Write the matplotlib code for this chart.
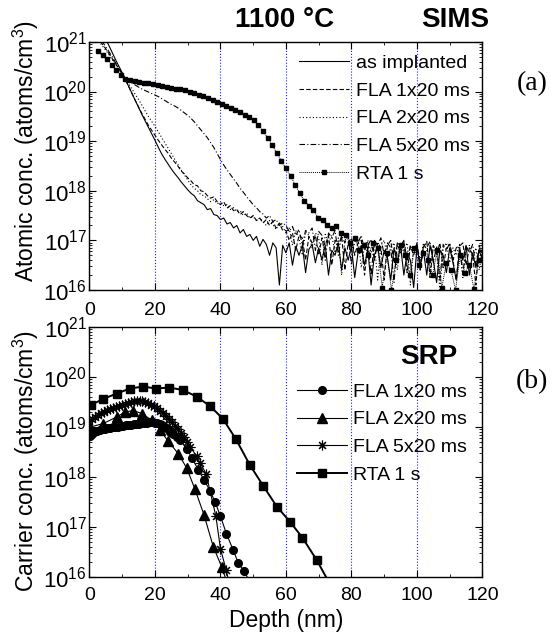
import numpy as np
import matplotlib
matplotlib.use("Agg")
import matplotlib.pyplot as plt
from matplotlib.ticker import LogLocator, MultipleLocator, NullFormatter

plt.rcParams['font.family'] = ['Liberation Sans', 'DejaVu Sans']
plt.rcParams['mathtext.fontset'] = 'custom'
plt.rcParams['mathtext.rm'] = 'Liberation Sans'
plt.rcParams['mathtext.it'] = 'Liberation Sans:italic'
plt.rcParams['mathtext.bf'] = 'Liberation Sans:bold'

# ---- SIMS (top), depth in nm, values are log10(atoms/cm3) ----
sims_depth = np.arange(0, 121)

sims_as_impl = [
    21.55, 21.45, 21.35, 21.25, 21.15, 21.05, 20.92, 20.78, 20.64, 20.51,
    20.38, 20.24, 20.10, 19.96, 19.82, 19.68, 19.54, 19.41, 19.28, 19.15,
    19.02, 18.88, 18.75, 18.64, 18.54, 18.44, 18.35, 18.27, 18.18, 18.10,
    18.02, 17.95, 17.90, 17.80, 17.76, 17.72, 17.62, 17.64, 17.52, 17.50,
    17.42, 17.45, 17.33, 17.36, 17.25, 17.30, 17.15, 17.22, 17.08, 17.12,
    17.00, 17.08, 16.88, 17.02, 16.92, 16.70, 16.95, 16.85, 16.10, 16.90,
    16.75, 16.95, 16.50, 16.88, 16.70, 16.90, 16.35, 16.82, 16.92, 16.55,
    16.85, 16.60, 16.90, 16.30, 16.80, 16.70, 16.95, 16.40, 16.85, 16.60,
    16.88, 16.25, 16.75, 16.90, 16.50, 16.82, 16.10, 16.70, 16.88, 16.45,
    16.80, 16.65, 16.20, 16.85, 16.55, 16.90, 16.30, 16.75, 16.60, 16.05,
    16.85, 16.50, 16.78, 16.30, 16.90, 16.60, 16.15, 16.80, 16.70, 16.35,
    16.85, 16.55, 16.20, 16.80, 16.60, 16.90, 16.30, 16.75, 16.45, 16.80, 16.60]

sims_fla1 = [
    21.35, 21.25, 21.15, 21.05, 20.95, 20.86, 20.76, 20.66, 20.56, 20.46,
    20.35, 20.23, 20.10, 19.96, 19.82, 19.69, 19.56, 19.44, 19.32, 19.22,
    19.12, 19.02, 18.93, 18.84, 18.76, 18.66, 18.58, 18.50, 18.40, 18.34,
    18.26, 18.20, 18.12, 18.10, 18.00, 17.98, 17.90, 17.85, 17.88, 17.78,
    17.72, 17.78, 17.65, 17.70, 17.60, 17.62, 17.52, 17.58, 17.50, 17.45,
    17.50, 17.40, 17.45, 17.35, 17.42, 17.30, 17.38, 17.25, 17.35, 17.20,
    17.20, 17.00, 17.15, 16.80, 17.10, 17.05, 16.60, 17.08, 16.95, 17.10,
    16.70, 17.05, 16.90, 17.10, 16.50, 17.00, 16.90, 17.08, 16.40, 16.95,
    17.05, 16.70, 16.95, 17.00, 16.30, 16.90, 17.02, 16.60, 16.95, 16.85,
    16.20, 16.90, 17.00, 16.55, 16.92, 16.75, 16.98, 16.35, 16.88, 16.70,
    16.95, 16.50, 16.85, 16.98, 16.25, 16.90, 16.70, 16.95, 16.45, 16.85,
    16.92, 16.60, 16.20, 16.88, 16.95, 16.50, 16.85, 16.70, 16.10, 16.90, 16.75]

sims_fla2 = [
    21.30, 21.20, 21.10, 21.00, 20.92, 20.83, 20.74, 20.64, 20.55, 20.45,
    20.35, 20.25, 20.15, 20.05, 19.94, 19.84, 19.73, 19.61, 19.50, 19.40,
    19.30, 19.19, 19.08, 18.97, 18.86, 18.75, 18.64, 18.53, 18.42, 18.32,
    18.22, 18.12, 18.05, 18.00, 17.92, 17.90, 17.84, 17.78, 17.82, 17.74,
    17.76, 17.70, 17.72, 17.62, 17.66, 17.58, 17.60, 17.50, 17.55, 17.45,
    17.48, 17.40, 17.45, 17.38, 17.30, 17.40, 17.32, 17.22, 17.35, 17.28,
    17.15, 17.25, 16.90, 17.20, 17.05, 16.70, 17.18, 17.10, 16.85, 17.15,
    17.05, 16.50, 17.12, 16.95, 17.10, 16.75, 17.05, 16.30, 17.00, 17.10,
    16.80, 16.95, 17.05, 16.45, 16.90, 17.00, 16.75, 16.95, 16.20, 16.90,
    17.00, 16.65, 16.85, 16.95, 16.40, 16.90, 16.80, 16.95, 16.10, 16.85,
    16.90, 16.60, 16.95, 16.80, 16.30, 16.90, 16.75, 16.00, 16.85, 16.95,
    16.55, 16.85, 16.70, 16.92, 16.25, 16.80, 16.90, 16.60, 16.85, 16.40, 16.80]

sims_fla5 = [
    21.40, 21.30, 21.20, 21.10, 21.00, 20.90, 20.80, 20.70, 20.58, 20.47,
    20.36, 20.27, 20.22, 20.17, 20.13, 20.09, 20.05, 20.02, 19.99, 19.96,
    19.93, 19.90, 19.86, 19.82, 19.78, 19.74, 19.71, 19.67, 19.62, 19.57,
    19.52, 19.46, 19.39, 19.31, 19.23, 19.15, 19.07, 18.97, 18.87, 18.75,
    18.63, 18.52, 18.42, 18.33, 18.24, 18.15, 18.05, 17.97, 17.88, 17.80,
    17.72, 17.66, 17.58, 17.53, 17.45, 17.50, 17.38, 17.42, 17.30, 17.35,
    17.30, 17.18, 17.28, 17.10, 17.22, 16.90, 17.20, 17.15, 17.25, 16.80,
    17.18, 17.10, 16.60, 17.15, 17.05, 17.20, 16.70, 17.10, 16.95, 17.12,
    16.50, 17.05, 16.95, 17.10, 16.80, 16.98, 16.30, 17.00, 16.90, 17.05,
    16.70, 16.95, 16.85, 16.15, 16.95, 16.88, 17.00, 16.60, 16.90, 16.80,
    16.95, 16.40, 16.90, 16.85, 16.98, 16.55, 16.88, 16.20, 16.92, 16.80,
    16.95, 16.60, 16.85, 16.90, 16.30, 16.88, 16.75, 16.92, 16.50, 16.85, 16.70]

sims_rta_depth = [
    2.6, 4.0, 5.4, 6.8, 8.2, 9.6, 11.0, 12.4, 13.8, 15.2, 16.6, 18.0, 19.4,
    20.8, 22.2, 23.6, 25.0, 26.4, 27.8, 29.2, 30.6, 32.0, 33.4, 34.8, 36.2,
    37.6, 39.0, 40.4, 41.8, 43.2, 44.6, 46.0, 47.4, 48.8, 50.2, 51.6, 53.0,
    54.4, 55.8, 57.2, 58.6, 60.0, 61.4, 62.8, 64.2, 65.6, 67.0, 68.4, 69.8,
    71.2, 72.6, 74.0, 75.4, 76.8, 78.2, 79.6, 81.0, 82.4, 83.8, 85.2, 86.6,
    88.0, 89.4, 90.8, 92.2, 93.6, 95.0, 96.4, 97.8, 99.2, 100.6, 102.0,
    103.4, 104.8, 106.2, 107.6, 109.0, 110.4, 111.8, 113.2, 114.6, 116.0,
    117.4, 118.8]
sims_rta = [
    20.82, 20.73, 20.66, 20.54, 20.43, 20.33, 20.26, 20.23, 20.21, 20.20,
    20.18, 20.17, 20.15, 20.13, 20.11, 20.10, 20.08, 20.06, 20.05, 20.03,
    20.00, 19.97, 19.94, 19.91, 19.87, 19.83, 19.79, 19.75, 19.71, 19.67,
    19.62, 19.58, 19.53, 19.48, 19.42, 19.32, 19.20, 19.07, 18.92, 18.76,
    18.60, 18.45, 18.30, 18.12, 17.95, 17.80, 17.70, 17.62, 17.45, 17.42,
    17.30, 17.25, 17.28, 17.15, 17.10, 16.95, 17.05, 16.80, 16.90, 16.70,
    16.95, 16.85, 16.05, 16.75, 16.00, 16.60, 16.90, 16.70, 16.30, 16.85,
    16.50, 16.75, 16.60, 16.30, 16.80, 16.05, 16.55, 16.40, 16.00, 16.70,
    16.35, 16.50, 16.02, 16.60]

# ---- SRP (bottom), values are log10(carriers/cm3) ----
srp_fla1_depth = [
    0.3, 0.8, 1.5, 2.3, 3.1, 3.9, 4.7, 5.5, 6.3, 7.1, 7.9, 8.7, 9.5, 10.3,
    11.1, 11.9, 12.7, 13.5, 14.3, 15.1, 15.9, 16.7, 17.5, 18.3, 19.1, 19.9,
    20.7, 21.5, 22.3, 23.1, 23.9, 24.7, 25.6, 26.6, 27.6, 29.7, 31.2, 33.2,
    35.0, 36.8, 38.3, 40.0, 41.8, 43.9, 45.4, 47.2, 49.0]
srp_fla1 = [
    18.82, 18.86, 18.90, 18.92, 18.94, 18.96, 18.97, 18.98, 18.99, 19.00,
    19.00, 19.01, 19.02, 19.03, 19.04, 19.05, 19.05, 19.06, 19.07, 19.07,
    19.08, 19.09, 19.09, 19.10, 19.10, 19.09, 19.08, 19.07, 19.04, 19.00,
    18.96, 18.91, 18.86, 18.80, 18.74, 18.57, 18.39, 18.15, 17.94, 17.73,
    17.51, 17.22, 16.87, 16.54, 16.29, 16.12, 15.90]

srp_fla2_depth = [0.3, 4.2, 8.3, 10.8, 13.4, 16.0, 19.0, 21.5, 24.0, 27.1,
                  29.7, 32.2, 35.0, 37.8, 40.4, 42.5]
srp_fla2 = [19.00, 19.07, 19.20, 19.30, 19.33, 19.27, 19.14, 18.95, 18.72,
            18.47, 18.18, 17.76, 17.24, 16.61, 16.20, 15.80]

srp_fla5_depth = [
    0.0, 0.9, 1.8, 2.7, 3.6, 4.5, 5.4, 6.3, 7.2, 8.1, 9.0, 9.9, 10.8, 11.7,
    12.6, 13.5, 14.4, 15.3, 16.2, 17.1, 18.0, 18.9, 19.8, 20.7, 21.6, 22.5,
    23.4, 24.3, 25.2, 26.1, 27.0, 27.9, 28.8, 29.8, 30.7, 32.7, 33.7, 35.6,
    38.6, 40.0, 41.7, 43.0]
srp_fla5 = [
    19.12, 19.17, 19.21, 19.25, 19.28, 19.31, 19.34, 19.37, 19.39, 19.41,
    19.43, 19.45, 19.47, 19.49, 19.50, 19.52, 19.52, 19.53, 19.52, 19.50,
    19.48, 19.45, 19.42, 19.38, 19.33, 19.28, 19.22, 19.16, 19.10, 19.03,
    18.96, 18.89, 18.81, 18.70, 18.61, 18.42, 18.29, 18.07, 17.22, 16.57,
    16.15, 15.80]

srp_rta_depth = [0.4, 4.2, 8.3, 12.4, 16.4, 20.3, 24.4, 28.5, 32.7, 36.8,
                 40.7, 44.7, 49.0, 53.1, 57.2, 61.2, 65.0, 69.4, 73.5]
srp_rta = [19.44, 19.56, 19.67, 19.77, 19.81, 19.77, 19.79, 19.74, 19.61,
           19.42, 19.17, 18.76, 18.24, 17.82, 17.41, 17.11, 16.79, 16.34, 15.85]


def to_conc(logs):
    return 10.0 ** np.asarray(logs)


def style(ax, ylabel, label_y, xpad):
    ax.set_yscale('log')
    ax.set_xlim(0, 120)
    ax.set_ylim(1e16, 1e21)
    ax.xaxis.set_major_locator(MultipleLocator(20))
    ax.xaxis.set_minor_locator(MultipleLocator(10))
    ax.yaxis.set_major_locator(LogLocator(base=10, numticks=10))
    ax.yaxis.set_minor_locator(LogLocator(base=10, subs=np.arange(2, 10), numticks=20))
    ax.yaxis.set_minor_formatter(NullFormatter())
    ax.tick_params(which='both', direction='in', top=True, right=True)
    ax.tick_params(which='major', length=5, width=0.8)
    ax.tick_params(which='minor', length=2.5, width=0.6)
    ax.tick_params(axis='x', labelsize=14, pad=xpad)
    ax.tick_params(axis='y', labelsize=16, pad=1.8)
    ax.set_axisbelow(True)
    ax.grid(axis='x', which='major', color='#1f1fff', linestyle=':', linewidth=0.8)
    for sp in ax.spines.values():
        sp.set_linewidth(1.0)
    ax.set_ylabel(ylabel, fontsize=16.5)
    ax.yaxis.set_label_coords(-0.122, label_y)


fig = plt.figure(figsize=(5.52, 6.41), dpi=100)
ax1 = fig.add_axes([0.162, 0.5476, 0.712, 0.387])
ax2 = fig.add_axes([0.162, 0.0998, 0.712, 0.390])

# top: SIMS
ax1.plot(sims_depth, to_conc(sims_as_impl), color='k', lw=0.8, ls='-', label='as implanted')
ax1.plot(sims_depth, to_conc(sims_fla1), color='k', lw=0.8, ls=(0, (4, 2)), label='FLA 1x20 ms')
ax1.plot(sims_depth, to_conc(sims_fla2), color='k', lw=0.8, ls=(0, (1, 2)), label='FLA 2x20 ms')
ax1.plot(sims_depth, to_conc(sims_fla5), color='k', lw=0.8, ls=(0, (5, 2, 1, 2)), label='FLA 5x20 ms')
ax1.plot(sims_rta_depth, to_conc(sims_rta), color='k', lw=0.7, ls=(0, (1, 1)),
         marker='s', ms=3.4, label='RTA 1 s')
style(ax1, 'Atomic conc. (atoms/cm$^3$)', 0.56, 9)
ax1.legend(loc='upper left', bbox_to_anchor=(0.533, 0.95), frameon=False,
           fontsize=14, handlelength=2.6, handletextpad=0.35, labelspacing=0.52,
           borderpad=0, borderaxespad=0)

# bottom: SRP
ax2.plot(srp_fla1_depth, to_conc(srp_fla1), color='k', lw=0.8, marker='o', ms=5.5,
         label='FLA 1x20 ms')
ax2.plot(srp_fla2_depth, to_conc(srp_fla2), color='k', lw=0.8, marker='^', ms=6.5,
         label='FLA 2x20 ms')
ax2.plot(srp_fla5_depth, to_conc(srp_fla5), color='k', lw=0.8, marker=(8, 2, 0), ms=7,
         mew=0.8, label='FLA 5x20 ms')
ax2.plot(srp_rta_depth, to_conc(srp_rta), color='k', lw=1.4, marker='s', ms=6.3,
         label='RTA 1 s')
style(ax2, 'Carrier conc. (atoms/cm$^3$)', 0.465, 7.5)
ax2.set_xlabel('Depth (nm)', fontsize=16.5, labelpad=3)
ax2.legend(loc='upper left', bbox_to_anchor=(0.528, 0.776), frameon=False,
           fontsize=14, handlelength=2.6, handletextpad=0.3, labelspacing=0.52,
           borderpad=0, borderaxespad=0)

fig.text(0.516, 0.969, '1100 °C', ha='center', va='center', fontsize=20, fontweight='bold')
fig.text(0.824, 0.969, 'SIMS', ha='center', va='center', fontsize=20, fontweight='bold')
fig.text(0.777, 0.443, 'SRP', ha='center', va='center', fontsize=20, fontweight='bold')
fig.text(0.964, 0.870, '(a)', ha='center', va='center', fontsize=20, family='Liberation Serif')
fig.text(0.964, 0.404, '(b)', ha='center', va='center', fontsize=20, family='Liberation Serif')

fig.savefig('out.png', dpi=100)
